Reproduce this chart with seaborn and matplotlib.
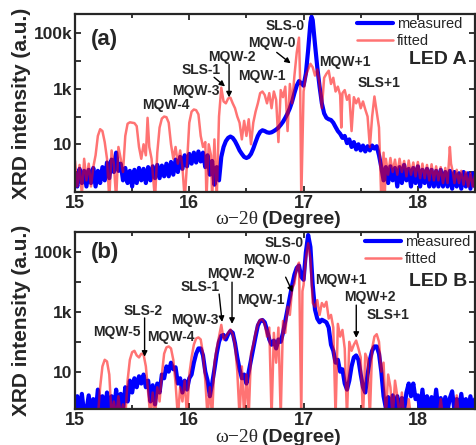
import matplotlib
matplotlib.use("Agg")
import matplotlib.pyplot as plt
from matplotlib.ticker import FixedLocator, FuncFormatter, MultipleLocator
import seaborn as sns

# ---- LED A: measured ----
A_MEAS_X = [15.00, 15.02, 15.04, 15.06, 15.08, 15.10, 15.12, 15.14, 15.16, 15.18,
            15.20, 15.22, 15.24, 15.26, 15.28, 15.30, 15.32, 15.34, 15.36, 15.38,
            15.40, 15.42, 15.44, 15.46, 15.48, 15.50, 15.52, 15.54, 15.56, 15.58,
            15.60, 15.62, 15.64, 15.66, 15.68, 15.70, 15.72, 15.74, 15.76, 15.78,
            15.80, 15.82, 15.84, 15.86, 15.88, 15.90, 15.92, 15.94, 15.96, 15.98,
            16.00, 16.02, 16.04, 16.06, 16.08, 16.10, 16.12, 16.14, 16.16, 16.18,
            16.20, 16.22, 16.24, 16.26, 16.28, 16.30, 16.32, 16.34, 16.36, 16.38,
            16.40, 16.42, 16.44, 16.46, 16.48, 16.50, 16.52, 16.54, 16.56, 16.58,
            16.60, 16.62, 16.64, 16.66, 16.68, 16.70, 16.72, 16.74, 16.76, 16.78,
            16.80, 16.82, 16.84, 16.86, 16.88, 16.90, 16.92, 16.94, 16.96, 16.98,
            17.00, 17.02, 17.04, 17.06, 17.07, 17.08, 17.10, 17.12, 17.14, 17.16,
            17.18, 17.20, 17.22, 17.24, 17.26, 17.28, 17.30, 17.32, 17.34, 17.36,
            17.38, 17.40, 17.42, 17.44, 17.46, 17.48, 17.50, 17.52, 17.54, 17.56,
            17.58, 17.60, 17.62, 17.64, 17.66, 17.68, 17.70, 17.72, 17.74, 17.76,
            17.78, 17.80, 17.82, 17.84, 17.86, 17.88, 17.90, 17.92, 17.94, 17.96,
            17.98, 18.00, 18.02, 18.04, 18.06, 18.08, 18.10, 18.12, 18.14, 18.16,
            18.18, 18.20, 18.22, 18.24, 18.26, 18.28, 18.30, 18.32, 18.34, 18.36,
            18.38, 18.40, 18.42, 18.44, 18.46, 18.48, 18.50]
A_MEAS_Y = [0.9, 0.3, 1.3, 0.4, 1.1, 0.3, 1.2, 0.4, 1.4, 0.3,
            1.1, 0.4, 1.5, 0.5, 2.2, 0.6, 2.8, 1.0, 5.0, 1.1,
            2.0, 0.5, 1.4, 0.4, 1.1, 0.3, 1.2, 0.4, 1.4, 0.5,
            1.3, 0.4, 1.5, 0.5, 1.6, 0.6, 1.8, 0.6, 1.7, 0.7,
            2.0, 0.7, 2.3, 0.8, 2.8, 1.0, 3.5, 1.3, 4.0, 1.6,
            4.5, 2.0, 5.0, 2.2, 5.5, 2.4, 5.0, 1.5, 4.0, 0.8,
            2.5, 0.35, 1.5, 0.5, 3.5, 8, 13, 17, 19, 17,
            13, 9, 6, 4.5, 3.5, 3.2, 3.5, 4.5, 7, 12,
            20, 28, 32, 30, 27, 26, 27, 30, 34, 40,
            50, 65, 90, 130, 200, 350, 700, 1300, 1900, 1600,
            1300, 3500, 25000, 250000, 400000, 300000, 40000, 6000, 1200, 300,
            130, 90, 80, 75, 60, 42, 30, 24, 17, 20,
            11, 15, 8, 12, 6.5, 10, 6, 9, 5.5, 8.5,
            6, 9, 7, 8.5, 4, 1.5, 0.5, 1.5, 0.4, 1.6,
            0.5, 1.4, 0.3, 1.5, 0.4, 1.8, 0.5, 1.3, 0.3, 1.4,
            0.4, 1.6, 0.3, 1.2, 0.4, 1.3, 0.3, 1.2, 0.3, 1.1,
            0.3, 1.2, 0.3, 1.0, 0.3, 1.1, 0.25, 1.0, 0.3, 0.9,
            0.25, 1.0, 0.3, 0.9, 0.25, 0.9, 0.3]

# ---- LED A: fitted ----
A_FIT_X = [15.00, 15.02, 15.04, 15.06, 15.08, 15.10, 15.12, 15.14, 15.16, 15.18,
           15.20, 15.22, 15.24, 15.26, 15.28, 15.30, 15.32, 15.34, 15.36, 15.38,
           15.40, 15.42, 15.44, 15.46, 15.48, 15.50, 15.52, 15.54, 15.56, 15.58,
           15.60, 15.62, 15.635, 15.65, 15.67, 15.70, 15.72, 15.74, 15.76, 15.78,
           15.80, 15.82, 15.84, 15.86, 15.88, 15.90, 15.92, 15.94, 15.96, 15.98,
           16.00, 16.02, 16.04, 16.06, 16.08, 16.10, 16.12, 16.14, 16.15, 16.17,
           16.19, 16.20, 16.22, 16.24, 16.26, 16.28, 16.30, 16.32, 16.34, 16.36,
           16.38, 16.40, 16.42, 16.44, 16.46, 16.48, 16.50, 16.52, 16.54, 16.56,
           16.58, 16.60, 16.62, 16.64, 16.66, 16.68, 16.70, 16.72, 16.74, 16.76,
           16.78, 16.80, 16.82, 16.84, 16.86, 16.88, 16.90, 16.92, 16.94, 16.96,
           16.97, 16.98, 17.00, 17.02, 17.04, 17.06, 17.08, 17.10, 17.12, 17.14,
           17.16, 17.18, 17.20, 17.22, 17.24, 17.26, 17.28, 17.30, 17.32, 17.33,
           17.34, 17.36, 17.38, 17.40, 17.42, 17.44, 17.46, 17.48, 17.50, 17.52,
           17.54, 17.56, 17.58, 17.60, 17.62, 17.64, 17.66, 17.68, 17.70, 17.71,
           17.72, 17.74, 17.76, 17.78, 17.80, 17.82, 17.84, 17.86, 17.88, 17.90,
           17.92, 17.94, 17.96, 17.98, 18.00, 18.02, 18.04, 18.06, 18.08, 18.10,
           18.12, 18.14, 18.16, 18.18, 18.20, 18.22, 18.24, 18.26, 18.28, 18.29,
           18.30, 18.32, 18.34, 18.36, 18.38, 18.40, 18.42, 18.44, 18.46, 18.48,
           18.50]
A_FIT_Y = [2.5, 0.3, 1.8, 0.15, 3.0, 0.5, 2.0, 0.3, 1.5, 4,
           20, 35, 30, 12, 3, 0.1, 6, 2, 0.1, 8,
           3, 1, 20, 55, 62, 60, 58, 45, 8, 3,
           10, 4, 90, 8, 3, 0.1, 5, 40, 85, 100,
           95, 60, 10, 3, 8, 2, 6, 1.5, 0.1, 2,
           60, 150, 180, 170, 120, 20, 8, 12, 0.1, 10,
           4, 0.1, 15, 0.1, 100, 1100, 350, 300, 450, 480,
           300, 200, 100, 60, 15, 70, 20, 80, 10, 60,
           150, 300, 700, 800, 600, 300, 700, 200, 800, 400,
           12, 900, 500, 1200, 30, 1500, 300, 3000, 20000, 70000,
           2000, 0.1, 800, 3000, 5000, 8000, 6000, 3000, 5000, 1500,
           200, 2500, 3500, 4500, 1500, 2500, 800, 1200, 600, 40,
           700, 900, 400, 600, 30, 500, 300, 450, 200, 350,
           180, 100, 8, 100, 530, 150, 40, 0.1, 5, 0.1,
           3, 0.8, 3.2, 1.0, 2.8, 0.8, 3.0, 1.0, 2.5, 0.7,
           2.6, 0.8, 2.2, 0.7, 2.3, 0.6, 2.0, 0.6, 1.8, 0.5,
           1.9, 0.5, 1.6, 0.5, 1.5, 0.4, 1.4, 0.4, 8, 2,
           1.3, 0.4, 1.2, 0.4, 1.1, 0.35, 1.0, 0.3, 0.9, 0.3,
           0.8]

# ---- LED B: measured ----
B_MEAS_X = [15.00, 15.02, 15.04, 15.06, 15.08, 15.10, 15.12, 15.14, 15.16, 15.18,
            15.20, 15.22, 15.24, 15.26, 15.28, 15.30, 15.32, 15.34, 15.36, 15.38,
            15.40, 15.42, 15.44, 15.46, 15.48, 15.50, 15.52, 15.54, 15.56, 15.58,
            15.60, 15.62, 15.64, 15.66, 15.68, 15.70, 15.72, 15.74, 15.76, 15.78,
            15.80, 15.82, 15.84, 15.86, 15.88, 15.90, 15.92, 15.94, 15.96, 15.98,
            16.00, 16.02, 16.04, 16.06, 16.08, 16.10, 16.12, 16.14, 16.16, 16.18,
            16.20, 16.22, 16.24, 16.26, 16.28, 16.30, 16.32, 16.34, 16.36, 16.38,
            16.40, 16.42, 16.44, 16.46, 16.48, 16.50, 16.52, 16.54, 16.56, 16.58,
            16.60, 16.62, 16.64, 16.66, 16.68, 16.70, 16.72, 16.74, 16.76, 16.78,
            16.80, 16.82, 16.84, 16.86, 16.88, 16.90, 16.92, 16.94, 16.96, 16.98,
            17.00, 17.02, 17.04, 17.06, 17.08, 17.10, 17.12, 17.14, 17.16, 17.18,
            17.20, 17.22, 17.24, 17.26, 17.28, 17.30, 17.32, 17.34, 17.36, 17.38,
            17.40, 17.42, 17.44, 17.46, 17.48, 17.50, 17.52, 17.54, 17.56, 17.58,
            17.60, 17.62, 17.64, 17.66, 17.68, 17.70, 17.72, 17.74, 17.76, 17.78,
            17.80, 17.82, 17.84, 17.86, 17.88, 17.90, 17.92, 17.94, 17.96, 17.98,
            18.00, 18.02, 18.04, 18.06, 18.08, 18.10, 18.12, 18.14, 18.16, 18.18,
            18.20, 18.22, 18.24, 18.26, 18.28, 18.30, 18.32, 18.34, 18.36, 18.38,
            18.40, 18.42, 18.44, 18.46, 18.48, 18.50]
B_MEAS_Y = [0.4, 1.5, 0.4, 1.8, 0.4, 0.5, 1.6, 0.4, 1.2, 0.4,
            2.5, 0.5, 1.5, 0.4, 2.0, 0.5, 1.5, 0.4, 2.5, 0.6,
            1.8, 0.5, 3, 1.0, 5, 2, 6, 3, 7, 4,
            8, 3, 5, 1.0, 3.5, 0.8, 4, 2, 8, 6,
            15, 10, 20, 12, 14, 4, 6, 2, 5, 2.5,
            6, 8, 20, 40, 60, 60, 35, 10, 5, 1.5,
            4, 12, 40, 100, 160, 170, 120, 180, 230, 200,
            90, 30, 12, 6, 8, 4, 10, 25, 60, 150,
            350, 500, 540, 450, 250, 120, 80, 110, 60, 120,
            100, 200, 500, 1200, 3000, 8000, 18000, 30000, 36000, 15000,
            12000, 100000, 380000, 150000, 8000, 1200, 600, 450, 550, 500,
            450, 300, 80, 50, 20, 25, 10, 12, 4, 2.5,
            5, 15, 30, 35, 25, 8, 3, 2, 8, 25,
            50, 70, 70, 40, 10, 1.5, 0.6, 1.4, 0.5, 1.6,
            0.5, 1.5, 0.5, 1.3, 0.5, 2.0, 4.0, 1.5, 4.0, 1.2,
            1.6, 0.5, 2.5, 0.5, 1.5, 0.5, 1.4, 0.5, 2.5, 0.5,
            1.3, 0.5, 1.4, 0.5, 1.3, 2.2, 0.5, 1.2, 0.5, 1.8,
            0.5, 1.2, 0.5, 1.5, 0.5, 1.2]

# ---- LED B: fitted ----
B_FIT_X = [15.00, 15.20, 15.22, 15.24, 15.26, 15.28, 15.30, 15.32, 15.34, 15.36,
           15.38, 15.40, 15.42, 15.44, 15.46, 15.48, 15.50, 15.52, 15.54, 15.56,
           15.58, 15.60, 15.62, 15.64, 15.66, 15.68, 15.70, 15.72, 15.74, 15.76,
           15.78, 15.80, 15.82, 15.84, 15.86, 15.88, 15.90, 15.92, 15.94, 15.96,
           15.98, 16.00, 16.02, 16.04, 16.06, 16.08, 16.10, 16.12, 16.14, 16.16,
           16.18, 16.20, 16.22, 16.24, 16.26, 16.28, 16.30, 16.32, 16.34, 16.36,
           16.38, 16.40, 16.42, 16.44, 16.46, 16.48, 16.50, 16.52, 16.54, 16.56,
           16.58, 16.60, 16.62, 16.64, 16.66, 16.68, 16.70, 16.72, 16.74, 16.76,
           16.78, 16.80, 16.82, 16.84, 16.86, 16.88, 16.90, 16.92, 16.94, 16.96,
           16.98, 16.99, 17.00, 17.02, 17.04, 17.06, 17.08, 17.10, 17.12, 17.14,
           17.16, 17.18, 17.20, 17.22, 17.24, 17.26, 17.28, 17.30, 17.32, 17.34,
           17.36, 17.38, 17.40, 17.42, 17.44, 17.46, 17.48, 17.50, 17.52, 17.54,
           17.56, 17.58, 17.60, 17.62, 17.64, 17.66, 17.68, 17.70, 17.72, 17.74,
           17.76, 17.78, 17.80, 17.82, 17.84, 17.86, 17.88, 17.90, 17.92, 17.94,
           18.18, 18.20, 18.22, 18.32, 18.34, 18.36, 18.50]
B_FIT_Y = [0.3, 0.3, 3, 15, 25, 22, 8, 0.3, 1, 0.3,
           1.5, 0.3, 0.8, 0.3, 5, 25, 45, 50, 35, 30,
           40, 38, 15, 2, 0.3, 2, 0.3, 3, 1, 8,
           40, 65, 70, 60, 25, 4, 0.3, 3, 1, 5,
           0.3, 8, 30, 80, 130, 140, 120, 40, 5, 0.3,
           3, 0.3, 20, 60, 150, 370, 120, 150, 200, 260,
           180, 80, 10, 0.3, 15, 0.3, 8, 0.3, 40, 80,
           200, 400, 550, 560, 400, 150, 300, 0.3, 200, 20,
           300, 0.3, 500, 200, 1500, 800, 6000, 9000, 30000, 45000,
           0.3, 5000, 8000, 60000, 200000, 60000, 2000, 1500, 2500, 800,
           2000, 1500, 2200, 600, 800, 300, 0.3, 400, 150, 250,
           60, 0.3, 100, 50, 80, 110, 60, 30, 0.3, 40,
           25, 0.3, 60, 150, 180, 100, 10, 20, 0.3, 8,
           3, 0.3, 5, 1.5, 0.3, 2, 0.3, 0.3, 1.2, 0.3,
           0.3, 1.2, 0.3, 0.3, 1.6, 0.3, 0.3]

W, H = 476, 445


def px(x0, y0, x1, y1):
    # axes rect from pixel box
    return [x0 / W, 1 - y1 / H, (x1 - x0) / W, (y1 - y0) / H]


def decade_label(v, pos):
    return {10: "10", 1e3: "1k", 1e5: "100k"}.get(round(v), "")


def draw_panel(ax, mx, my, fx, fy, ylim):
    sns.lineplot(x=mx, y=my, ax=ax, color="blue", lw=3.0, label="measured",
                 estimator=None, sort=False)
    sns.lineplot(x=fx, y=fy, ax=ax, color="red", alpha=0.55, lw=1.8,
                 label="fitted", estimator=None, sort=False)
    ax.set_yscale("log")
    ax.set_xlim(15, 18.5)
    ax.set_ylim(*ylim)
    ax.xaxis.set_major_locator(MultipleLocator(1))
    ax.xaxis.set_minor_locator(MultipleLocator(0.5))
    ax.yaxis.set_major_locator(FixedLocator([1, 10, 100, 1e3, 1e4, 1e5]))
    ax.yaxis.set_major_formatter(FuncFormatter(decade_label))
    ax.yaxis.set_minor_locator(FixedLocator([]))
    ax.tick_params(which="both", direction="in", top=True, right=True, width=1.3)
    ax.tick_params(which="major", length=4.5)
    ax.tick_params(which="minor", length=3)
    ax.tick_params(axis="x", labelsize=13, pad=2)
    ax.tick_params(axis="y", labelsize=12.5, pad=2)
    for lab in ax.get_xticklabels() + ax.get_yticklabels():
        lab.set_fontweight("bold")
    for s in ax.spines.values():
        s.set_linewidth(1.6)
    ax.set_xlabel("")
    ax.set_ylabel("XRD intensity (a.u.)", fontsize=15, fontweight="bold", va="center")
    ax.yaxis.set_label_coords(-0.1325, 0.5)


def note(ax, text, xy, start=None, end=None):
    ax.text(xy[0], xy[1], text, fontsize=10, fontweight="bold", ha="center", va="center")
    if start is not None:
        ax.annotate("", xy=end, xytext=start,
                    arrowprops=dict(arrowstyle="-|>", color="black", lw=1.0,
                                    mutation_scale=8, shrinkA=0, shrinkB=0))


sns.set_style("ticks")
plt.rcParams["font.family"] = ["Liberation Sans", "DejaVu Sans"]

fig = plt.figure(figsize=(W / 100, H / 100), dpi=100)
ax_a = fig.add_axes(px(75, 14, 475, 192))
ax_b = fig.add_axes(px(75, 232, 475, 409))

draw_panel(ax_a, A_MEAS_X, A_MEAS_Y, A_FIT_X, A_FIT_Y, (0.19, 5e5))
draw_panel(ax_b, B_MEAS_X, B_MEAS_Y, B_FIT_X, B_FIT_Y, (0.56, 4.8e5))

# panel (a) peak labels
note(ax_a, "SLS-0", (16.843, 1.79e5))
note(ax_a, "MQW-0", (16.722, 4.36e4), (16.765, 2.06e4), (16.887, 8.3e3))
note(ax_a, "MQW-1", (16.635, 2.8e3))
note(ax_a, "MQW-2", (16.374, 1.36e4), (16.348, 7.6e3), (16.348, 490))
note(ax_a, "SLS-1", (16.104, 4.6e3), (16.217, 2.6e3), (16.313, 1.22e3))
note(ax_a, "MQW-3", (16.061, 805))
note(ax_a, "MQW-4", (15.791, 251))
note(ax_a, "MQW+1", (17.365, 8.97e3))
note(ax_a, "SLS+1", (17.661, 1.57e3))

# panel (b) peak labels
note(ax_b, "SLS-0", (16.826, 2.0e5))
note(ax_b, "MQW-0", (16.678, 5.4e4), (16.843, 1.47e4), (16.904, 4.6e3))
note(ax_b, "MQW-1", (16.626, 2.5e3))
note(ax_b, "MQW-2", (16.365, 1.85e4), (16.374, 1e4), (16.374, 400))
note(ax_b, "SLS-1", (16.096, 6.8e3), (16.261, 4e3), (16.287, 464))
note(ax_b, "MQW-3", (16.052, 541))
note(ax_b, "MQW-4", (15.843, 147))
note(ax_b, "SLS-2", (15.600, 1.08e3), (15.609, 631), (15.609, 31.6))
note(ax_b, "MQW-5", (15.365, 215))
note(ax_b, "MQW+1", (17.330, 1.17e4))
note(ax_b, "MQW+2", (17.583, 3.16e3), (17.461, 1.7e3), (17.461, 136))
note(ax_b, "SLS+1", (17.739, 794))

for ax, tag, led, tag_y, led_y, leg_anchor in [
        (ax_a, "(a)", "LED A", 0.854, 0.742, (0.9675, 0.983)),
        (ax_b, "(b)", "LED B", 0.887, 0.723, (0.9875, 0.981))]:
    ax.text(0.04, tag_y, tag, transform=ax.transAxes, fontsize=16,
            fontweight="bold", ha="left", va="center")
    ax.text(0.98, led_y, led, transform=ax.transAxes, fontsize=14,
            fontweight="bold", ha="right", va="center")
    ax.legend(loc="upper right", bbox_to_anchor=leg_anchor, frameon=False,
              fontsize=10.5, handlelength=2.5, handletextpad=0.25,
              labelspacing=0.2, borderpad=0, borderaxespad=0)

# x axis titles: serif omega-2theta + bold sans "(Degree)"
for yc in (219, 437):
    fig.text(258 / W, 1 - yc / H, "\u03c9\u22122\u03b8", fontsize=14,
             family=["Liberation Serif", "DejaVu Serif"], ha="right", va="center")
    fig.text(262 / W, 1 - yc / H, "(Degree)", fontsize=14, fontweight="bold",
             ha="left", va="center")

fig.savefig("out.png", dpi=100)
